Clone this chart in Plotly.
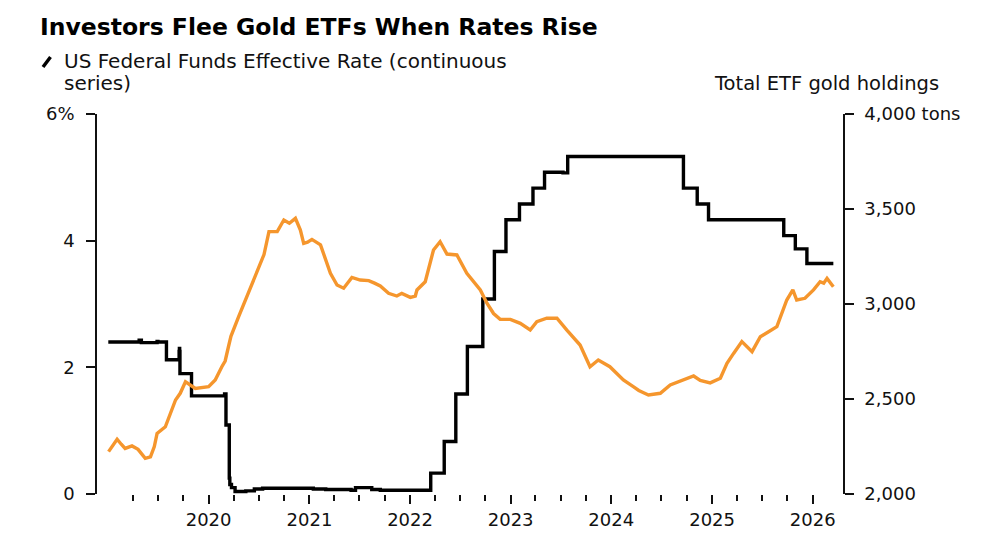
import plotly.graph_objects as go

# ---- Data ----
rate_dates = ["2019-01-02", "2019-04-24", "2019-05-02", "2019-06-28", "2019-07-01", "2019-08-01",
              "2019-09-16", "2019-09-17", "2019-09-18", "2019-09-19", "2019-10-31", "2020-01-02",
              "2020-02-28", "2020-03-04", "2020-03-16", "2020-03-18", "2020-03-24", "2020-04-06",
              "2020-05-15", "2020-06-15", "2020-07-15", "2021-01-15", "2021-03-01", "2021-06-01",
              "2021-06-17", "2021-08-15", "2021-09-15", "2022-03-17", "2022-05-05", "2022-06-16",
              "2022-07-28", "2022-09-22", "2022-11-03", "2022-12-15", "2023-02-02", "2023-03-23",
              "2023-05-04", "2023-07-10", "2023-07-27", "2024-09-19", "2024-11-08", "2024-12-19",
              "2025-09-18", "2025-10-30", "2025-12-11", "2026-03-17"]
rate_values = [2.40, 2.43, 2.39, 2.41, 2.40, 2.12,
               2.25, 2.30, 2.25, 1.90, 1.55, 1.55,
               1.58, 1.09, 0.25, 0.15, 0.10, 0.04,
               0.05, 0.08, 0.09, 0.08, 0.07, 0.06,
               0.10, 0.07, 0.06, 0.33, 0.83, 1.58,
               2.33, 3.08, 3.83, 4.33, 4.58, 4.83,
               5.08, 5.07, 5.33, 4.83, 4.58, 4.33,
               4.08, 3.87, 3.64, 3.64]

gold_dates = ["2019-01-03", "2019-01-20", "2019-02-03", "2019-02-18", "2019-03-04", "2019-03-29",
              "2019-04-20", "2019-05-16", "2019-06-04", "2019-06-18", "2019-06-28", "2019-07-28",
              "2019-08-15", "2019-09-03", "2019-09-20", "2019-10-09", "2019-10-25", "2019-11-14",
              "2020-01-01", "2020-01-25", "2020-02-18", "2020-03-01", "2020-03-13", "2020-03-22",
              "2020-04-19", "2020-05-10", "2020-06-01", "2020-07-01", "2020-07-20", "2020-08-07",
              "2020-09-06", "2020-09-30", "2020-10-20", "2020-11-11", "2020-11-29", "2020-12-11",
              "2020-12-25", "2021-01-10", "2021-02-10", "2021-03-18", "2021-04-11", "2021-05-05",
              "2021-06-04", "2021-07-04", "2021-08-04", "2021-08-25", "2021-09-15", "2021-10-15",
              "2021-11-14", "2021-12-02", "2022-01-02", "2022-01-20", "2022-01-26", "2022-02-25",
              "2022-03-12", "2022-03-27", "2022-04-20", "2022-05-15", "2022-06-20", "2022-07-26",
              "2022-09-13", "2022-10-07", "2022-10-31", "2022-11-24", "2022-12-31", "2023-02-05",
              "2023-03-13", "2023-04-06", "2023-05-12", "2023-06-18", "2023-07-24", "2023-09-10",
              "2023-10-16", "2023-11-15", "2023-12-27", "2024-02-14", "2024-03-21", "2024-04-10",
              "2024-05-15", "2024-06-27", "2024-08-02", "2024-09-14", "2024-10-26", "2024-11-19",
              "2024-12-25", "2025-01-31", "2025-02-24", "2025-03-20", "2025-04-19", "2025-05-26",
              "2025-06-25", "2025-07-25", "2025-08-24", "2025-09-29", "2025-10-21", "2025-11-04",
              "2025-12-04", "2026-01-04", "2026-01-28", "2026-02-10", "2026-02-22", "2026-03-17"]
gold_tons = [2223, 2262, 2288, 2262, 2240, 2253,
             2235, 2188, 2196, 2250, 2319, 2354,
             2420, 2495, 2530, 2591, 2575, 2556,
             2565, 2600, 2670, 2700, 2775, 2830,
             2933, 3010, 3091, 3196, 3260, 3381,
             3381, 3442, 3425, 3451, 3389, 3319,
             3325, 3340, 3311, 3162, 3100, 3083,
             3140, 3126, 3123, 3110, 3095, 3056,
             3042, 3056, 3035, 3042, 3074, 3117,
             3200, 3284, 3328, 3263, 3258, 3162,
             3074, 3004, 2950, 2920, 2919, 2898,
             2863, 2907, 2925, 2925, 2863, 2784,
             2670, 2705, 2670, 2600, 2565, 2545,
             2521, 2530, 2574, 2600, 2621, 2598,
             2585, 2609, 2688, 2740, 2802, 2749,
             2828, 2854, 2881, 3021, 3074, 3021,
             3030, 3074, 3117, 3110, 3135, 3091]

left_tickvals = [0, 2, 4, 6]
left_ticktext = ["0", "2", "4", "6%"]
right_tickvals = [2000, 2500, 3000, 3500, 4000]
right_ticktext = ["2,000", "2,500", "3,000", "3,500", "4,000 tons"]
year_ticks = ["2020-01-01", "2021-01-01", "2022-01-01", "2023-01-01", "2024-01-01", "2025-01-01", "2026-01-01"]
year_labels = ["2020", "2021", "2022", "2023", "2024", "2025", "2026"]
quarter_ticks = [f"{y}-{m:02d}-01" for y in range(2019, 2026) for m in (4, 7, 10)]

title_text = "Investors Flee Gold ETFs When Rates Rise"
legend_line1 = "US Federal Funds Effective Rate (continuous"
legend_line2 = "series)"
right_title = "Total ETF gold holdings"

FONT = "DejaVu Sans"
INK = "#111111"

# page offset compensation (browser body margin)
OFF = 8
L, R, T, B = 97 - OFF, 843 - OFF, 114 - OFF, 494 - OFF
PW, PH = R - L, B - T


def px(x):
    return (x - OFF - L) / PW


def py(y):
    return (B - (y - OFF)) / PH


fig = go.Figure()
fig.add_trace(go.Scatter(x=gold_dates, y=gold_tons, yaxis="y2", mode="lines",
                         line=dict(color="#F5962D", width=3.4), showlegend=False))
fig.add_trace(go.Scatter(x=rate_dates, y=rate_values, yaxis="y", mode="lines",
                         line=dict(color="#000000", width=3.4, shape="hv"), showlegend=False))

fig.update_layout(
    width=1000, height=545,
    margin=dict(l=L, r=1000 - R, t=T, b=545 - B, autoexpand=False),
    paper_bgcolor="white", plot_bgcolor="white",
    font=dict(family=FONT, color=INK, size=18),
    title=dict(text="<b>" + title_text + "</b>", x=(40 - OFF) / 1000, xanchor="left", xref="container",
               y=1 - (27 - OFF) / 545, yanchor="middle", yref="container",
               font=dict(family=FONT, size=23.5, color="#000000")),
    xaxis=dict(range=["2018-11-22", "2026-04-21"], showgrid=False, zeroline=False, showline=False,
               tickmode="array", tickvals=year_ticks, ticktext=year_labels,
               ticks="outside", ticklen=9, tickwidth=1.5, tickcolor=INK,
               tickfont=dict(size=18, family=FONT, color=INK),
               minor=dict(tickmode="array", tickvals=quarter_ticks, ticks="outside",
                          ticklen=5.5, tickwidth=1.5, tickcolor=INK, showgrid=False)),
    yaxis=dict(range=[0, 6], showgrid=False, zeroline=False, showline=True, linecolor=INK,
               linewidth=1.5, tickmode="array", tickvals=left_tickvals, ticktext=left_ticktext,
               ticks="outside", ticklen=9, tickwidth=1.5, tickcolor=INK, ticklabelstandoff=8,
               tickfont=dict(size=18, family=FONT, color=INK)),
    yaxis2=dict(range=[2000, 4000], overlaying="y", side="right", anchor="x",
                showgrid=False, zeroline=False, showline=True, linecolor=INK, linewidth=1.5,
                tickmode="array", tickvals=right_tickvals, ticktext=right_ticktext,
                ticks="outside", ticklen=9, tickwidth=1.5, tickcolor=INK, ticklabelstandoff=7,
                tickfont=dict(size=18, family=FONT, color=INK)),
)

fig.add_annotation(text=legend_line1, xref="paper", yref="paper", x=px(62),
                   y=py(61), xanchor="left", yanchor="middle", showarrow=False,
                   font=dict(size=20, family=FONT, color=INK))
fig.add_annotation(text=legend_line2, xref="paper", yref="paper", x=px(62),
                   y=py(83), xanchor="left", yanchor="middle", showarrow=False,
                   font=dict(size=20, family=FONT, color=INK))
fig.add_annotation(text=right_title, xref="paper", yref="paper", x=px(712),
                   y=py(83), xanchor="left", yanchor="middle", showarrow=False,
                   font=dict(size=19.5, family=FONT, color=INK))
fig.add_shape(type="line", xref="paper", yref="paper",
              x0=px(43), y0=py(67), x1=px(50.5), y1=py(57),
              line=dict(color="#000000", width=3.5))

fig.write_html("out.html")
